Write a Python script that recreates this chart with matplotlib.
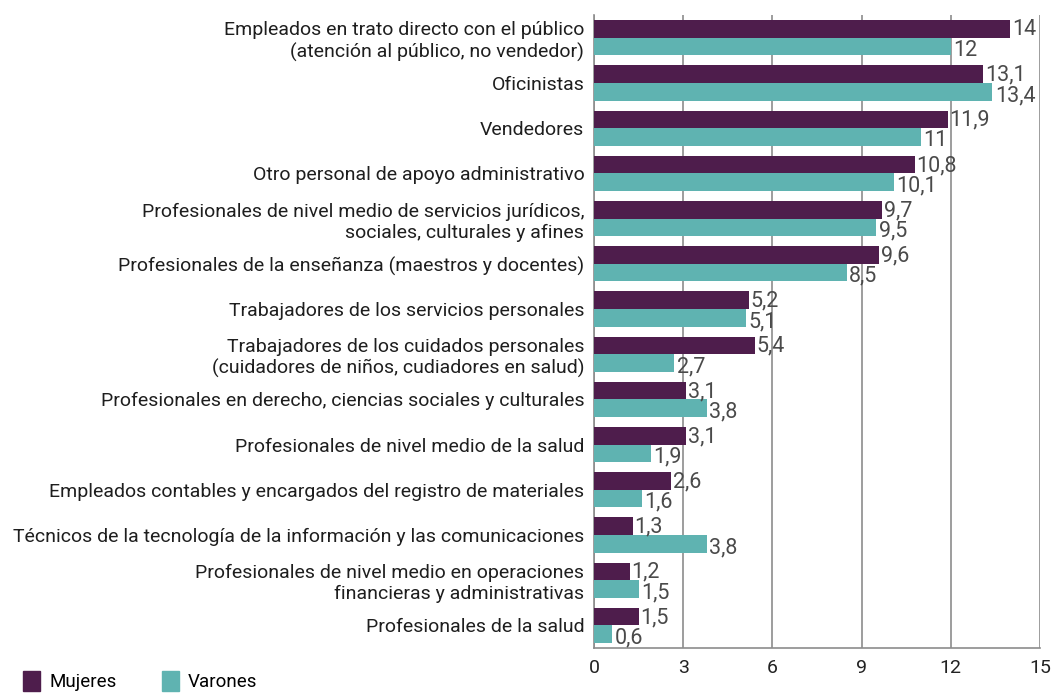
import matplotlib.pyplot as plt
from matplotlib.patches import Patch
import numpy as np

plt.rcParams['font.family'] = ['Roboto', 'DejaVu Sans']

categorias = [
    "Empleados en trato directo con el público\n(atención al público, no vendedor)",
    "Oficinistas",
    "Vendedores",
    "Otro personal de apoyo administrativo",
    "Profesionales de nivel medio de servicios jurídicos,\nsociales, culturales y afines",
    "Profesionales de la enseñanza (maestros y docentes)",
    "Trabajadores de los servicios personales",
    "Trabajadores de los cuidados personales\n(cuidadores de niños, cudiadores en salud)",
    "Profesionales en derecho, ciencias sociales y culturales",
    "Profesionales de nivel medio de la salud",
    "Empleados contables y encargados del registro de materiales",
    "Técnicos de la tecnología de la información y las comunicaciones",
    "Profesionales de nivel medio en operaciones\nfinancieras y administrativas",
    "Profesionales de la salud",
]
mujeres = [14, 13.1, 11.9, 10.8, 9.7, 9.6, 5.2, 5.4, 3.1, 3.1, 2.6, 1.3, 1.2, 1.5]
varones = [12, 13.4, 11, 10.1, 9.5, 8.5, 5.1, 2.7, 3.8, 1.9, 1.6, 3.8, 1.5, 0.6]
ticks_x = [0, 3, 6, 9, 12, 15]

col_muj = "#4e1d4c"
col_var = "#5fb3b1"
gris = "#8c8c8c"

def fmt(v):
    return f"{v:g}".replace(".", ",")

fig = plt.figure(figsize=(10.54, 6.93), dpi=100)
ax = fig.add_axes([0.5636, 0.0649, 0.4231, 0.9131])

y = np.arange(len(categorias))
h = 0.39
ax.barh(y - h / 2, mujeres, height=h, color=col_muj, zorder=3)
ax.barh(y + h / 2, varones, height=h, color=col_var, zorder=3)

for i in range(len(categorias)):
    ax.text(mujeres[i] + 0.05, y[i] - h / 2 + 0.02, fmt(mujeres[i]), va="center", ha="left",
            fontsize=15.5, color="#4a4a4a", zorder=4)
    ax.text(varones[i] + 0.08, y[i] + h / 2 + 0.08, fmt(varones[i]), va="center", ha="left",
            fontsize=15.5, color="#4a4a4a", zorder=4)

ax.set_xlim(0, 15)
ax.set_ylim(len(categorias) - 0.5, -0.5)
ax.set_xticks(ticks_x)
ax.set_xticklabels([str(t) for t in ticks_x], fontsize=14, color="#222222")
ax.set_yticks(y)
ax.set_yticklabels(categorias, fontsize=14, color="#1e1e1e", ha="right")
ax.tick_params(axis="both", length=0)
ax.tick_params(axis="x", pad=8)
ax.tick_params(axis="y", pad=7)
ax.grid(axis="x", color=gris, linewidth=1.2, zorder=0)
for s in ["top", "right"]:
    ax.spines[s].set_visible(False)
for s in ["left", "bottom"]:
    ax.spines[s].set_color(gris)
    ax.spines[s].set_linewidth(1.2)

handles = [Patch(color=col_muj, label="Mujeres"), Patch(color=col_var, label="Varones")]
fig.legend(handles=handles, loc="lower left", bbox_to_anchor=(0.006, -0.022), ncol=2,
           frameon=False, fontsize=13.5, handlelength=0.9, handleheight=1.2,
           columnspacing=2.4, handletextpad=0.5)

fig.savefig("out.png", dpi=100)
